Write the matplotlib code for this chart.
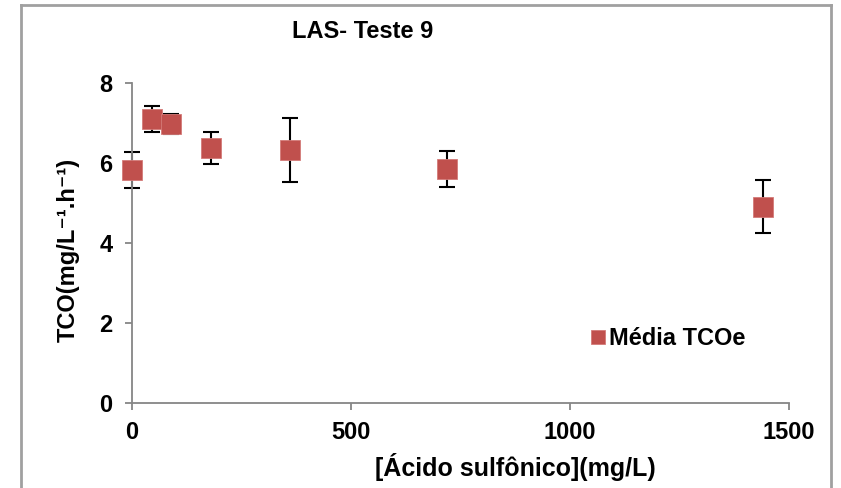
import matplotlib
matplotlib.use("Agg")
import matplotlib.pyplot as plt
from matplotlib.lines import Line2D

plt.rcParams["font.family"] = ["Liberation Sans", "DejaVu Sans"]
plt.rcParams["font.weight"] = "bold"

# ---- data ----
acido = [0, 45, 90, 180, 360, 720, 1440]          # mg/L
tco_media = [5.83, 7.10, 6.97, 6.37, 6.33, 5.85, 4.91]
tco_erro = [0.45, 0.33, 0.25, 0.40, 0.80, 0.46, 0.66]
x_ticks = [0, 500, 1000, 1500]
y_ticks = [0, 2, 4, 6, 8]

RED = "#C0504D"
AXC = "#868686"
FS = 17

fig = plt.figure(figsize=(8.41, 4.88), dpi=100)
ax = fig.add_axes([132/841, 1-403/488, 657/841, 320/488])

eb = ax.errorbar(acido, tco_media, yerr=tco_erro, fmt="none", ecolor="black",
                 elinewidth=1.5, capsize=6, capthick=1.5, zorder=2)
for art in eb.lines[1] + eb.lines[2]:
    art.set_clip_on(False)
ax.plot(acido, tco_media, ls="none", marker="s", ms=14.5, color=RED,
        mec="#D47A78", mew=0.6, zorder=3, label="Média TCOe", clip_on=False)

ax.set_xlim(0, 1500)
ax.set_ylim(0, 8)
ax.set_xticks(x_ticks)
ax.set_yticks(y_ticks)
for s in ["top", "right"]:
    ax.spines[s].set_visible(False)
for s in ["left", "bottom"]:
    ax.spines[s].set_color(AXC)
    ax.spines[s].set_linewidth(1.3)
ax.tick_params(axis="both", colors=AXC, length=5, width=1.3, labelsize=FS,
               labelcolor="black")
ax.tick_params(axis="y", pad=9)
ax.tick_params(axis="x", pad=8)
for lab in ax.get_xticklabels() + ax.get_yticklabels():
    lab.set_fontweight("bold")

# label coords: xlabel anchored at its top, ylabel at its right edge
ax.set_xlabel("[Ácido sulfônico](mg/L)", fontsize=FS + 1, fontweight="bold")
ax.xaxis.set_label_coords((515-132)/657, -(453-403)/320)
ax.set_ylabel("TCO(mg/L\u207b\u00b9.h\u207b\u00b9)", fontsize=FS, fontweight="bold")
ax.yaxis.set_label_coords(-(132-80)/657, (403-250)/320)

fig.text(363/841, 1-31/488, "LAS- Teste 9", fontsize=FS, fontweight="bold",
         ha="center", va="center")

leg = ax.legend(loc="upper left", bbox_to_anchor=((582-132)/657, (403-318)/320),
                frameon=False, fontsize=FS, handlelength=0.55, handletextpad=0.2,
                markerscale=0.7, borderaxespad=0)
for t in leg.get_texts():
    t.set_fontweight("bold")

# chart-area border (Excel frame)
fc = "#A0A0A0"
fig.add_artist(Line2D([21/841, 21/841], [0, 1-5/488], color=fc, lw=2))
fig.add_artist(Line2D([21/841, 831/841], [1-5/488, 1-5/488], color=fc, lw=2))
fig.add_artist(Line2D([831/841, 831/841], [0, 1-5/488], color=fc, lw=2))

fig.savefig("out.png", dpi=100)
